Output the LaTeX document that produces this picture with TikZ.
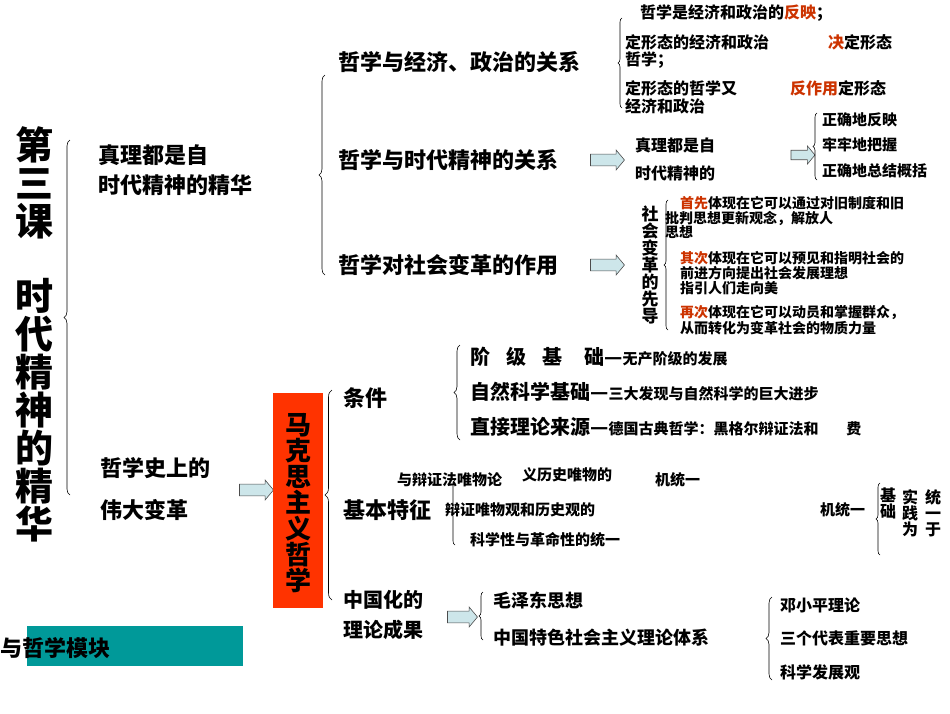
\documentclass[tikz,border=0pt]{standalone}
\usepackage{fontspec}
\setmainfont{Noto Sans CJK SC}
\usetikzlibrary{decorations.pathreplacing,shapes.arrows}
\definecolor{rd}{HTML}{CC3300}
\definecolor{box}{HTML}{FF3300}
\definecolor{teal2}{HTML}{009999}
\definecolor{arr}{HTML}{CDE6EA}
\tikzset{
 t/.style={anchor=west,inner sep=0pt,font=\bfseries\fontsize{#1}{#1}\selectfont},
 br/.style={decorate,decoration={brace,amplitude=#1},line width=0.6pt},
 br/.default=6pt,
 barr/.style={single arrow,draw=black!70,fill=arr,minimum height=34pt,minimum width=20pt,single arrow head extend=3pt,single arrow tip angle=100,inner sep=4pt,line width=0.6pt},
 vt/.style={align=center,inner sep=0pt,font=\bfseries\fontsize{#1}{#1}\selectfont}
}
\begin{document}
\begin{tikzpicture}[x=1pt,y=-1pt]
\useasboundingbox (0,0) rectangle (950,713);
% title
\node[vt=38] (tA) at (35,183) {\baselineskip=33pt 第\\三\\课};
\node[vt=38] (tB) at (35,410) {\baselineskip=37pt 时\\代\\精\\神\\的\\精\\华};
\draw[br=6pt] (70,495) -- (70,140);
\node[t=22] (n1) at (98,155) {真理都是自};
\node[t=22] (n1b) at (98,185) {时代精神的精华};
\node[t=22] (n2) at (100,468) {哲学史上的};
\node[t=22] (n2b) at (100,510) {伟大变革};
% upper branch
\draw[br=6pt] (325,275) -- (325,75);
\node[t=22] (a1) at (338,62) {哲学与经济、政治的关系};
\node[t=22] (a2) at (338,160) {哲学与时代精神的关系};
\node[t=22] (a3) at (338,265) {哲学对社会变革的作用};
\draw[br=4pt] (622,108) -- (622,18);
\node[t=16] (b0) at (640,13) {哲学是经济和政治的\textcolor{rd}{反映}；};
\node[t=16] (b1) at (625,42) {定形态的经济和政治};
\node[t=16] (b1b) at (625,60) {哲学；};
\node[t=16] (b1c) at (828,42) {\textcolor{rd}{决}定形态};
\node[t=16] (b2) at (625,88) {定形态的哲学又};
\node[t=16] (b2b) at (625,106) {经济和政治};
\node[t=16] (b2c) at (790,88) {\textcolor{rd}{反作用}定形态};
\node[barr] (ar1) at (605,160) {};
\node[barr] (ar2) at (605,265) {};
\node[t=16] (c1) at (635,145) {真理都是自};
\node[t=16] (c1b) at (635,173) {时代精神的};
\node[barr,minimum height=24pt,minimum width=18pt,inner sep=3pt] (ar3) at (801,155) {};
\draw[br=4pt] (817,180) -- (817,113);
\node[t=15] (d1) at (822,120) {正确地反映};
\node[t=15] (d2) at (822,145) {牢牢地把握};
\node[t=15] (d3) at (822,171) {正确地总结概括};
\node[vt=17] (e0) at (650,265) {\baselineskip=17pt 社\\会\\变\\革\\的\\先\\导};
\draw[br=4pt] (668,330) -- (668,200);
\node[t=14] (e1) at (680,203) {\textcolor{rd}{首先}体现在它可以通过对旧制度和旧};
\node[t=14] (e1b) at (665,218) {批判思想更新观念，解放人};
\node[t=14] (e1c) at (665,232) {思想};
\node[t=14] (e2) at (680,258) {\textcolor{rd}{其次}体现在它可以预见和指明社会的};
\node[t=14] (e2b) at (680,273) {前进方向提出社会发展理想};
\node[t=14] (e2c) at (680,288) {指引人们走向美};
\node[t=14] (e3) at (680,313) {\textcolor{rd}{再次}体现在它可以动员和掌握群众，};
\node[t=14] (e3b) at (680,328) {从而转化为变革社会的物质力量};
% lower branch
\node[barr] (ar4) at (254,490) {};
\node[fill=box,minimum width=50pt,minimum height=215pt,inner sep=0pt] (mk) at (298,500) {};
\node[vt=26] (mkt) at (298,503) {\baselineskip=27pt 马\\克\\思\\主\\义\\哲\\学};
\draw[br=7pt] (332,600) -- (332,390);
\node[t=22] (f1) at (343,398) {条件};
\draw[br=6pt] (460,440) -- (460,345);
\node[t=20] (g1) at (470,357) {阶\hspace{16pt}级\hspace{16pt}基\hspace{22pt}础—{\fontsize{15}{15}\selectfont 无产阶级的发展}};
\node[t=20] (g2) at (470,392) {自然科学基础—{\fontsize{15}{15}\selectfont 三大发现与自然科学的巨大进步}};
\node[t=20] (g3) at (470,427) {直接理论来源—{\fontsize{15}{15}\selectfont 德国古典哲学：黑格尔辩证法和\hspace{28pt}费}};
\node[t=22] (f2) at (343,510) {基本特征};
\draw[br=4pt] (455,545) -- (455,480);
\node[t=15] (h1) at (397,480) {与辩证法唯物论};
\node[t=15] (h1b) at (522,475) {义历史唯物的};
\node[t=15] (h1c) at (655,480) {机统一};
\node[t=15] (h2) at (445,510) {辩证唯物观和历史观的};
\node[t=15] (h2b) at (820,510) {机统一};
\node[t=15] (h3) at (470,540) {科学性与革命性的统一};
\draw[br=4pt] (880,555) -- (880,483);
\node[vt=16] (i1) at (888,503) {\baselineskip=19pt 基\\础};
\node[vt=16] (i2) at (910,513) {\baselineskip=19pt 实\\践\\为};
\node[vt=16] (i3) at (933,513) {\baselineskip=19pt 统\\一\\于};
\node[t=20] (f3) at (343,600) {中国化的};
\node[t=20] (f3b) at (343,630) {理论成果};
\node[barr,minimum height=30pt] (ar5) at (460,617) {};
\draw[br=4pt] (483,640) -- (483,592);
\node[t=18] (j1) at (493,600) {毛泽东思想};
\node[t=18] (j2) at (493,638) {中国特色社会主义理论体系};
\draw[br=6pt] (772,680) -- (772,597);
\node[t=16] (k1) at (780,605) {邓小平理论};
\node[t=16] (k2) at (780,638) {三个代表重要思想};
\node[t=16] (k3) at (780,672) {科学发展观};
\node[fill=teal2,minimum width=216pt,minimum height=40pt,inner sep=0pt] (tb) at (135,646) {};
\node[t=22] (tbt) at (0,648) {与哲学模块};
\end{tikzpicture}
\end{document}
